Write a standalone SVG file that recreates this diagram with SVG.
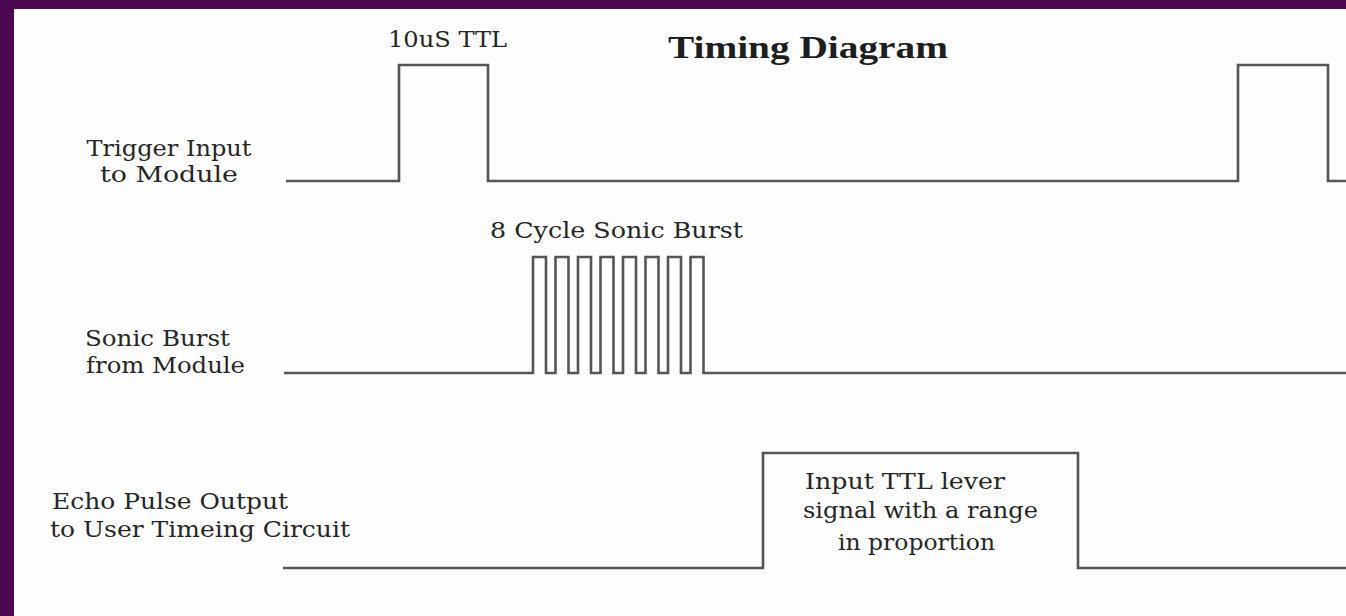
<svg xmlns="http://www.w3.org/2000/svg" width="1346" height="616" viewBox="0 0 1346 616">
<style>
.bg{fill:#fdfdfd}
.frame{fill:#4d0852}
.wave{fill:none;stroke:#555;stroke-width:2.6;stroke-linejoin:miter}
.lbl{font-family:"DejaVu Serif","Liberation Serif",serif;font-size:22.5px;fill:#262626}
.title{font-family:"Liberation Serif","DejaVu Serif",serif;font-size:31px;font-weight:bold;fill:#1e1e1e}
</style>
<rect class="frame" x="0" y="0" width="1346" height="616"/>
<rect class="bg" x="14" y="9" width="1332" height="607"/>
<g id="title">
<text class="title" x="668" y="58" textLength="280" lengthAdjust="spacingAndGlyphs">Timing  Diagram</text>
</g>
<g id="trigger">
<text class="lbl" x="169" y="156" text-anchor="middle" textLength="165" lengthAdjust="spacingAndGlyphs">Trigger Input</text>
<text class="lbl" x="169" y="182" text-anchor="middle" textLength="138" lengthAdjust="spacingAndGlyphs">to Module</text>
<text class="lbl" x="388" y="47" textLength="119" lengthAdjust="spacingAndGlyphs">10uS TTL</text>
</g>
<g id="sonic">
<text class="lbl" x="85" y="346" textLength="145" lengthAdjust="spacingAndGlyphs">Sonic Burst</text>
<text class="lbl" x="86" y="373" textLength="159" lengthAdjust="spacingAndGlyphs">from Module</text>
<text class="lbl" x="490" y="238" textLength="253" lengthAdjust="spacingAndGlyphs">8 Cycle Sonic Burst</text>
</g>
<g id="echo">
<text class="lbl" x="52" y="509" textLength="236" lengthAdjust="spacingAndGlyphs">Echo Pulse Output</text>
<text class="lbl" x="50" y="537" textLength="300" lengthAdjust="spacingAndGlyphs">to User Timeing Circuit</text>
<text class="lbl" x="805" y="489" textLength="200" lengthAdjust="spacingAndGlyphs">Input TTL lever</text>
<text class="lbl" x="803" y="518" textLength="235" lengthAdjust="spacingAndGlyphs">signal with a range</text>
<text class="lbl" x="838" y="550" textLength="157" lengthAdjust="spacingAndGlyphs">in proportion</text>
</g>
<g id="connectors">
<polyline class="wave" points="286,181 399,181 399,65 488,65 488,181 1238,181 1238,65 1328,65 1328,181 1346,181"/>
<polyline class="wave" points="284,373 533,373 533,257 546,257 546,373 555.5,373 555.5,257 568.5,257 568.5,373 578,373 578,257 591,257 591,373 600.5,373 600.5,257 613.5,257 613.5,373 623,373 623,257 636,257 636,373 645.5,373 645.5,257 658.5,257 658.5,373 668,373 668,257 681,257 681,373 690.5,373 690.5,257 703.5,257 703.5,373 1346,373"/>
<polyline class="wave" points="283,568 763,568 763,453 1078,453 1078,568 1346,568"/>
</g>
</svg>
